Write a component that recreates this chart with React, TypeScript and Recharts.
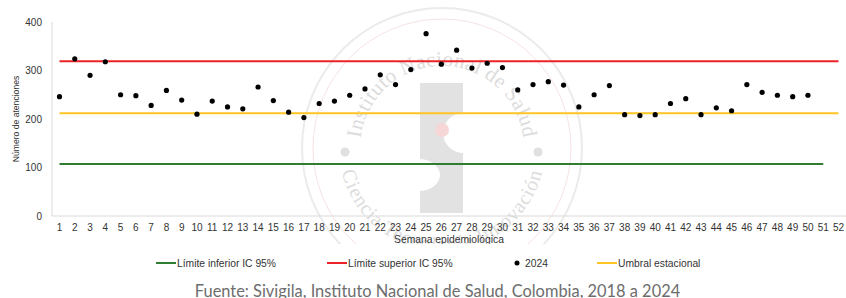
import React from 'react';
import { ComposedChart, Line, Scatter, XAxis, YAxis, Customized } from 'recharts';

const semanas = [
  '1', '2', '3', '4', '5', '6', '7', '8', '9', '10', '11', '12', '13',
  '14', '15', '16', '17', '18', '19', '20', '21', '22', '23', '24', '25', '26',
  '27', '28', '29', '30', '31', '32', '33', '34', '35', '36', '37', '38', '39',
  '40', '41', '42', '43', '44', '45', '46', '47', '48', '49', '50', '51', '52',
];

const casos2024 = [
  246, 324, 290, 318, 250, 248, 228, 259, 239, 210, 237, 225, 221,
  266, 238, 214, 203, 232, 237, 249, 262, 291, 271, 302, 376, 313,
  342, 305, 315, 306, 260, 271, 277, 270, 225, 250, 269, 209, 207,
  209, 232, 242, 209, 223, 217, 271, 255, 249, 246, 249, null, null,
];

const limiteInferior = [
  107, 107, 107, 107, 107, 107, 107, 107, 107, 107, 107, 107, 107,
  107, 107, 107, 107, 107, 107, 107, 107, 107, 107, 107, 107, 107,
  107, 107, 107, 107, 107, 107, 107, 107, 107, 107, 107, 107, 107,
  107, 107, 107, 107, 107, 107, 107, 107, 107, 107, 107, 107, null,
];

const limiteSuperior = [
  319, 319, 319, 319, 319, 319, 319, 319, 319, 319, 319, 319, 319,
  319, 319, 319, 319, 319, 319, 319, 319, 319, 319, 319, 319, 319,
  319, 319, 319, 319, 319, 319, 319, 319, 319, 319, 319, 319, 319,
  319, 319, 319, 319, 319, 319, 319, 319, 319, 319, 319, 319, 319,
];

const umbralEstacional = [
  212, 212, 212, 212, 212, 212, 212, 212, 212, 212, 212, 212, 212,
  212, 212, 212, 212, 212, 212, 212, 212, 212, 212, 212, 212, 212,
  212, 212, 212, 212, 212, 212, 212, 212, 212, 212, 212, 212, 212,
  212, 212, 212, 212, 212, 212, 212, 212, 212, 212, 212, 212, 212,
];

const yTicks = [0, 100, 200, 300, 400];

const data = semanas.map((s, i) => ({
  semana: s,
  casos: casos2024[i],
  inferior: limiteInferior[i],
  superior: limiteSuperior[i],
  umbral: umbralEstacional[i],
}));

const FONT = '"Liberation Sans", Arial, sans-serif';
const GREEN = '#2E7D32';
const RED = '#EC2227';
const YELLOW = '#FFC524';

const Watermark = () => {
  const cx = 442;
  const cy = 148;
  const rt = 82;
  const rb = 103;
  // top ring: full circle starting at bottom, clockwise on screen, midpoint at top
  const topPath = `M${cx},${cy + rt} A${rt},${rt} 0 0 1 ${cx},${cy - rt} A${rt},${rt} 0 0 1 ${cx},${cy + rt}`;
  // bottom ring: full circle starting at top, counter-clockwise on screen, midpoint at bottom
  const botPath = `M${cx},${cy - rb} A${rb},${rb} 0 0 0 ${cx},${cy + rb} A${rb},${rb} 0 0 0 ${cx},${cy - rb}`;
  return (
    <g pointerEvents="none">
      <defs>
        <path id="wmTop" d={topPath} />
        <path id="wmBot" d={botPath} />
      </defs>
      <circle cx={cx} cy={cy} r={140} fill="none" stroke="#ebebeb" strokeWidth={2} />
      <circle cx={cx} cy={cy} r={129} fill="none" stroke="#f7e2e2" strokeWidth={1} />
      <text fontFamily='"Liberation Serif", serif' fontSize={21} fill="#dcdcdc" letterSpacing={0.3}>
        <textPath href="#wmTop" startOffset="50%" textAnchor="middle">
          Instituto Nacional de Salud
        </textPath>
      </text>
      <text fontFamily='"Liberation Serif", serif' fontSize={20} fill="#dcdcdc" letterSpacing={0.9}>
        <textPath href="#wmBot" startOffset="50%" textAnchor="middle">
          Ciencia Tecnología Innovación
        </textPath>
      </text>
      <circle cx={345} cy={152} r={4.5} fill="#e0e0e0" />
      <circle cx={538} cy={152} r={4.5} fill="#e0e0e0" />
      <rect x={420} y={83} width={43} height={130} fill="#e2e2e2" />
      <ellipse cx={464} cy={133} rx={21} ry={20} fill="#fff" />
      <ellipse cx={419} cy={175} rx={21} ry={16} fill="#fff" />
      <circle cx={442} cy={130} r={7} fill="#f6d6d6" />
    </g>
  );
};

const Dot = (props: any) => {
  const { cx, cy } = props;
  if (typeof cx !== 'number' || typeof cy !== 'number' || isNaN(cy) || isNaN(cx)) return null;
  return <circle cx={cx} cy={cy} r={2.6} fill="#000" />;
};

const legendItems = [
  { label: 'Límite inferior IC 95%', color: GREEN, kind: 'line', x: 156 },
  { label: 'Límite superior IC 95%', color: RED, kind: 'line', x: 327 },
  { label: '2024', color: '#000', kind: 'dot', x: 512 },
  { label: 'Umbral estacional', color: YELLOW, kind: 'line', x: 597 },
];

export default function App() {
  return (
    <div style={{ position: 'absolute', left: 0, top: 0, width: 846, height: 298, background: '#fff' }}>
      <ComposedChart
        width={846}
        height={244}
        data={data}
        margin={{ top: 22, right: 0, bottom: 0, left: 0 }}
      >
        <Customized component={Watermark} />
        <XAxis
          dataKey="semana"
          interval={0}
          padding={{ left: 7.5, right: 7.5 }}
          tickLine={false}
          axisLine={{ stroke: '#d9d9d9', strokeWidth: 1 }}
          tick={{ fontSize: 10, fill: '#333', fontFamily: FONT }}
          height={28}
          label={{
            value: 'Semana epidemiológica',
            position: 'insideBottom',
            offset: 1,
            fontSize: 10.3,
            fill: '#333',
            fontFamily: FONT,
          }}
        />
        <YAxis
          domain={[0, 400]}
          ticks={yTicks}
          tickLine={false}
          axisLine={{ stroke: '#d9d9d9', strokeWidth: 1 }}
          tick={{ fontSize: 10, fill: '#333', fontFamily: FONT }}
          tickMargin={4}
          width={52}
          label={{
            value: 'Número de atenciones',
            angle: -90,
            position: 'insideLeft',
            offset: 16,
            fontSize: 8.6,
            fill: '#333',
            fontFamily: FONT,
            style: { textAnchor: 'middle' },
          }}
        />
        <Line dataKey="inferior" stroke={GREEN} strokeWidth={2} dot={false} isAnimationActive={false} />
        <Line dataKey="superior" stroke={RED} strokeWidth={2} dot={false} isAnimationActive={false} />
        <Line dataKey="umbral" stroke={YELLOW} strokeWidth={2} dot={false} isAnimationActive={false} />
        <Scatter dataKey="casos" fill="#000" shape={<Dot />} isAnimationActive={false} />
      </ComposedChart>
      <svg width={846} height={54} style={{ position: 'absolute', left: 0, top: 244 }}>
        {legendItems.map((it) => (
          <g key={it.label}>
            {it.kind === 'line' ? (
              <line x1={it.x} x2={it.x + 20} y1={19} y2={19} stroke={it.color} strokeWidth={2} />
            ) : (
              <circle cx={it.x + 5} cy={19} r={2.5} fill={it.color} />
            )}
            <text
              x={it.kind === 'line' ? it.x + 21 : it.x + 13}
              y={19}
              dy="0.355em"
              fontSize={10.3}
              fontFamily={FONT}
              fill="#333"
            >
              {it.label}
            </text>
          </g>
        ))}
        <text
          x={437.5}
          y={52.5}
          textAnchor="middle"
          fontFamily="Lato, sans-serif"
          fontSize={16.4}
          fill="#6d6d6d"
        >
          Fuente: Sivigila, Instituto Nacional de Salud, Colombia, 2018 a 2024
        </text>
      </svg>
    </div>
  );
}
